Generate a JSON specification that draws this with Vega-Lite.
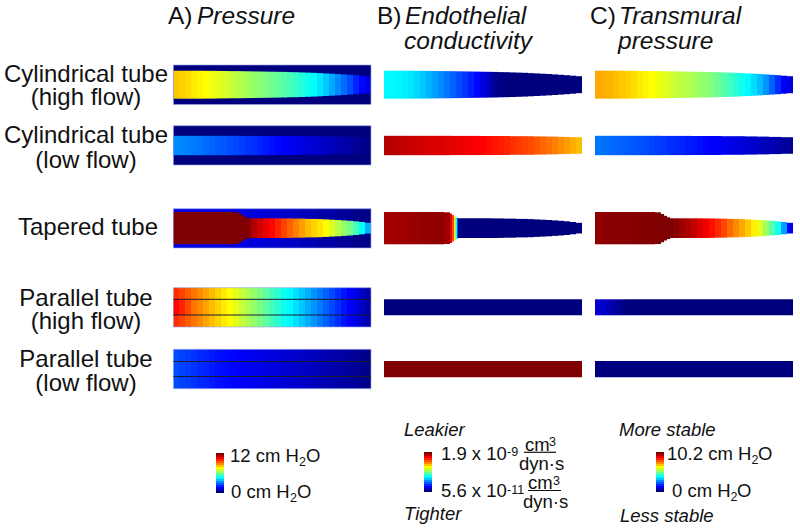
{"$schema":"https://vega.github.io/schema/vega-lite/v6.json","width":800,"height":532,"padding":0,"autosize":{"type":"fit","contains":"padding"},"background":"white","view":{"stroke":null},
"encoding":{"x":{"field":"x","type":"quantitative","scale":{"domain":[0,800],"nice":false,"zero":false},"axis":null},"y":{"field":"y","type":"quantitative","scale":{"domain":[532,0],"nice":false,"zero":false},"axis":null}},
"layer":[
{"mark":{"type":"rect","strokeWidth":0},"encoding":{"x2":{"field":"x2"},"y2":{"field":"y2"},"color":{"field":"v","type":"quantitative","legend":null,"scale":{"domain":[0,12.5,37.5,50,62.5,87.5,100],"range":["#00007f","#0000ff","#00ffff","#7fff7f","#ffff00","#ff0000","#7f0000"],"interpolate":"rgb"}}},
"data":{"values":[
{"x":173.4,"x2":371,"y":65,"y2":104.5,"v":0},{"x":173.4,"x2":371,"y":125.7,"y2":165,"v":0},
{"x":173.4,"x2":191,"y":208.7,"y2":248,"v":10},{"x":191,"x2":209,"y":208.7,"y2":248,"v":10},{"x":209,"x2":227,"y":208.7,"y2":248,"v":10},{"x":227,"x2":245,"y":208.7,"y2":248,"v":9.5},{"x":245,"x2":263,"y":208.7,"y2":248,"v":9},{"x":263,"x2":281,"y":208.7,"y2":248,"v":8},{"x":281,"x2":299,"y":208.7,"y2":248,"v":7},{"x":299,"x2":317,"y":208.7,"y2":248,"v":5.5},{"x":317,"x2":335,"y":208.7,"y2":248,"v":4},{"x":335,"x2":353,"y":208.7,"y2":248,"v":2.5},{"x":353,"x2":371,"y":208.7,"y2":248,"v":1},

{"x":173.4,"x2":179,"y":70.7,"y2":98.7,"v":68},{"x":179,"x2":185,"y":70.7,"y2":98.7,"v":67},{"x":185,"x2":191,"y":70.7,"y2":98.7,"v":66},{"x":191,"x2":197,"y":70.7,"y2":98.7,"v":64.5},{"x":197,"x2":203,"y":70.7,"y2":98.7,"v":63.5},{"x":203,"x2":209,"y":70.8,"y2":98.6,"v":62.5},{"x":209,"x2":215,"y":70.8,"y2":98.6,"v":61},{"x":215,"x2":221,"y":70.9,"y2":98.5,"v":60},{"x":221,"x2":227,"y":71,"y2":98.4,"v":59},{"x":227,"x2":233,"y":71.1,"y2":98.3,"v":57.5},{"x":233,"x2":239,"y":71.1,"y2":98.3,"v":56},{"x":239,"x2":245,"y":71.2,"y2":98.2,"v":55},{"x":245,"x2":251,"y":71.3,"y2":98.1,"v":53.5},{"x":251,"x2":257,"y":71.4,"y2":98,"v":52},{"x":257,"x2":263,"y":71.5,"y2":97.9,"v":51},{"x":263,"x2":269,"y":71.6,"y2":97.8,"v":50},{"x":269,"x2":275,"y":71.7,"y2":97.7,"v":48.5},{"x":275,"x2":281,"y":71.8,"y2":97.6,"v":47},{"x":281,"x2":287,"y":71.9,"y2":97.5,"v":46},{"x":287,"x2":293,"y":72.1,"y2":97.3,"v":44.5},{"x":293,"x2":299,"y":72.2,"y2":97.2,"v":43},{"x":299,"x2":305,"y":72.4,"y2":97,"v":41},{"x":305,"x2":311,"y":72.6,"y2":96.8,"v":39},{"x":311,"x2":317,"y":72.8,"y2":96.6,"v":37.5},{"x":317,"x2":323,"y":73.1,"y2":96.3,"v":35},{"x":323,"x2":329,"y":73.4,"y2":96,"v":32},{"x":329,"x2":335,"y":73.7,"y2":95.7,"v":29},{"x":335,"x2":341,"y":74,"y2":95.4,"v":26},{"x":341,"x2":347,"y":74.4,"y2":95,"v":23},{"x":347,"x2":353,"y":74.8,"y2":94.6,"v":20},{"x":353,"x2":359,"y":75.2,"y2":94.2,"v":16},{"x":359,"x2":365,"y":75.7,"y2":93.7,"v":13},{"x":365,"x2":371,"y":76.2,"y2":93.2,"v":10},

{"x":384,"x2":390,"y":70.7,"y2":98.7,"v":37},{"x":390,"x2":396,"y":70.7,"y2":98.7,"v":37},{"x":396,"x2":402,"y":70.7,"y2":98.7,"v":36.5},{"x":402,"x2":408,"y":70.7,"y2":98.7,"v":36},{"x":408,"x2":414,"y":70.7,"y2":98.7,"v":35},{"x":414,"x2":420,"y":70.8,"y2":98.6,"v":33.5},{"x":420,"x2":426,"y":70.8,"y2":98.6,"v":32},{"x":426,"x2":432,"y":70.9,"y2":98.5,"v":30},{"x":432,"x2":438,"y":71,"y2":98.4,"v":28},{"x":438,"x2":444,"y":71.1,"y2":98.3,"v":26},{"x":444,"x2":450,"y":71.1,"y2":98.3,"v":24},{"x":450,"x2":456,"y":71.2,"y2":98.2,"v":22},{"x":456,"x2":462,"y":71.3,"y2":98.1,"v":20},{"x":462,"x2":468,"y":71.4,"y2":98,"v":18},{"x":468,"x2":474,"y":71.5,"y2":97.9,"v":15.5},{"x":474,"x2":480,"y":71.6,"y2":97.8,"v":13},{"x":480,"x2":486,"y":71.7,"y2":97.7,"v":10},{"x":486,"x2":492,"y":71.8,"y2":97.6,"v":6},{"x":492,"x2":498,"y":71.9,"y2":97.5,"v":2},{"x":498,"x2":504,"y":72.1,"y2":97.3,"v":0.5},{"x":504,"x2":510,"y":72.2,"y2":97.2,"v":0},{"x":510,"x2":516,"y":72.4,"y2":97,"v":0},{"x":516,"x2":522,"y":72.6,"y2":96.8,"v":0},{"x":522,"x2":528,"y":72.8,"y2":96.6,"v":0},{"x":528,"x2":534,"y":73.1,"y2":96.3,"v":0},{"x":534,"x2":540,"y":73.4,"y2":96,"v":0},{"x":540,"x2":546,"y":73.7,"y2":95.7,"v":0},{"x":546,"x2":552,"y":74,"y2":95.4,"v":0},{"x":552,"x2":558,"y":74.4,"y2":95,"v":0},{"x":558,"x2":564,"y":74.8,"y2":94.6,"v":0},{"x":564,"x2":570,"y":75.2,"y2":94.2,"v":0},{"x":570,"x2":576,"y":75.7,"y2":93.7,"v":0},{"x":576,"x2":582,"y":76.2,"y2":93.2,"v":0},

{"x":595,"x2":601,"y":70.7,"y2":98.7,"v":71},{"x":601,"x2":607,"y":70.7,"y2":98.7,"v":70.5},{"x":607,"x2":613,"y":70.7,"y2":98.7,"v":70},{"x":613,"x2":619,"y":70.7,"y2":98.7,"v":69},{"x":619,"x2":625,"y":70.7,"y2":98.7,"v":68},{"x":625,"x2":631,"y":70.8,"y2":98.6,"v":67},{"x":631,"x2":637,"y":70.8,"y2":98.6,"v":66},{"x":637,"x2":643,"y":70.9,"y2":98.5,"v":64.5},{"x":643,"x2":649,"y":71,"y2":98.4,"v":63.5},{"x":649,"x2":655,"y":71.1,"y2":98.3,"v":62.5},{"x":655,"x2":661,"y":71.1,"y2":98.3,"v":61},{"x":661,"x2":667,"y":71.2,"y2":98.2,"v":60},{"x":667,"x2":673,"y":71.3,"y2":98.1,"v":58.5},{"x":673,"x2":679,"y":71.4,"y2":98,"v":57},{"x":679,"x2":685,"y":71.5,"y2":97.9,"v":56},{"x":685,"x2":691,"y":71.6,"y2":97.8,"v":55},{"x":691,"x2":697,"y":71.7,"y2":97.7,"v":54},{"x":697,"x2":703,"y":71.8,"y2":97.6,"v":52.5},{"x":703,"x2":709,"y":71.9,"y2":97.5,"v":51.5},{"x":709,"x2":715,"y":72.1,"y2":97.3,"v":50},{"x":715,"x2":721,"y":72.2,"y2":97.2,"v":48},{"x":721,"x2":727,"y":72.4,"y2":97,"v":46},{"x":727,"x2":733,"y":72.6,"y2":96.8,"v":44},{"x":733,"x2":739,"y":72.8,"y2":96.6,"v":41.5},{"x":739,"x2":745,"y":73.1,"y2":96.3,"v":39},{"x":745,"x2":751,"y":73.4,"y2":96,"v":37},{"x":751,"x2":757,"y":73.7,"y2":95.7,"v":34},{"x":757,"x2":763,"y":74,"y2":95.4,"v":31},{"x":763,"x2":769,"y":74.4,"y2":95,"v":27},{"x":769,"x2":775,"y":74.8,"y2":94.6,"v":22},{"x":775,"x2":781,"y":75.2,"y2":94.2,"v":17},{"x":781,"x2":787,"y":75.7,"y2":93.7,"v":12},{"x":787,"x2":793,"y":76.2,"y2":93.2,"v":9},

{"x":173.4,"x2":179,"y":135.8,"y2":155.2,"v":26},{"x":179,"x2":185,"y":135.8,"y2":155.2,"v":25.5},{"x":185,"x2":191,"y":135.8,"y2":155.2,"v":25},{"x":191,"x2":197,"y":135.8,"y2":155.2,"v":24.5},{"x":197,"x2":203,"y":135.8,"y2":155.2,"v":24},{"x":203,"x2":209,"y":135.8,"y2":155.2,"v":23},{"x":209,"x2":215,"y":135.8,"y2":155.2,"v":22.5},{"x":215,"x2":221,"y":135.8,"y2":155.2,"v":21.5},{"x":221,"x2":227,"y":135.8,"y2":155.2,"v":21},{"x":227,"x2":233,"y":135.8,"y2":155.2,"v":20},{"x":233,"x2":239,"y":135.8,"y2":155.2,"v":19.5},{"x":239,"x2":245,"y":135.9,"y2":155.1,"v":18.5},{"x":245,"x2":251,"y":135.9,"y2":155.1,"v":17.5},{"x":251,"x2":257,"y":135.9,"y2":155.1,"v":17},{"x":257,"x2":263,"y":135.9,"y2":155.1,"v":16},{"x":263,"x2":269,"y":135.9,"y2":155.1,"v":15},{"x":269,"x2":275,"y":136,"y2":155,"v":14},{"x":275,"x2":281,"y":136,"y2":155,"v":13},{"x":281,"x2":287,"y":136,"y2":155,"v":12},{"x":287,"x2":293,"y":136,"y2":155,"v":11.5},{"x":293,"x2":299,"y":136,"y2":155,"v":10.5},{"x":299,"x2":305,"y":136.2,"y2":154.8,"v":10},{"x":305,"x2":311,"y":136.2,"y2":154.8,"v":9},{"x":311,"x2":317,"y":136.2,"y2":154.8,"v":8},{"x":317,"x2":323,"y":136.2,"y2":154.8,"v":7.5},{"x":323,"x2":329,"y":136.4,"y2":154.6,"v":6.5},{"x":329,"x2":335,"y":136.4,"y2":154.6,"v":6},{"x":335,"x2":341,"y":136.6,"y2":154.4,"v":5},{"x":341,"x2":347,"y":136.6,"y2":154.4,"v":4},{"x":347,"x2":353,"y":136.9,"y2":154.1,"v":3.5},{"x":353,"x2":359,"y":136.9,"y2":154.1,"v":2.5},{"x":359,"x2":365,"y":137.2,"y2":153.8,"v":1.5},{"x":365,"x2":371,"y":137.2,"y2":153.8,"v":1},

{"x":384,"x2":390,"y":135.8,"y2":155.2,"v":95},{"x":390,"x2":396,"y":135.8,"y2":155.2,"v":94.5},{"x":396,"x2":402,"y":135.8,"y2":155.2,"v":94},{"x":402,"x2":408,"y":135.8,"y2":155.2,"v":93.5},{"x":408,"x2":414,"y":135.8,"y2":155.2,"v":93},{"x":414,"x2":420,"y":135.8,"y2":155.2,"v":92.5},{"x":420,"x2":426,"y":135.8,"y2":155.2,"v":92},{"x":426,"x2":432,"y":135.8,"y2":155.2,"v":91.5},{"x":432,"x2":438,"y":135.8,"y2":155.2,"v":91},{"x":438,"x2":444,"y":135.8,"y2":155.2,"v":91},{"x":444,"x2":450,"y":135.8,"y2":155.2,"v":90.5},{"x":450,"x2":456,"y":135.9,"y2":155.1,"v":90},{"x":456,"x2":462,"y":135.9,"y2":155.1,"v":89.5},{"x":462,"x2":468,"y":135.9,"y2":155.1,"v":89},{"x":468,"x2":474,"y":135.9,"y2":155.1,"v":88.5},{"x":474,"x2":480,"y":135.9,"y2":155.1,"v":88},{"x":480,"x2":486,"y":136,"y2":155,"v":87.5},{"x":486,"x2":492,"y":136,"y2":155,"v":86.5},{"x":492,"x2":498,"y":136,"y2":155,"v":85.5},{"x":498,"x2":504,"y":136,"y2":155,"v":85},{"x":504,"x2":510,"y":136,"y2":155,"v":84},{"x":510,"x2":516,"y":136.2,"y2":154.8,"v":83},{"x":516,"x2":522,"y":136.2,"y2":154.8,"v":82},{"x":522,"x2":528,"y":136.2,"y2":154.8,"v":81},{"x":528,"x2":534,"y":136.2,"y2":154.8,"v":80},{"x":534,"x2":540,"y":136.4,"y2":154.6,"v":79},{"x":540,"x2":546,"y":136.4,"y2":154.6,"v":77.5},{"x":546,"x2":552,"y":136.6,"y2":154.4,"v":76.5},{"x":552,"x2":558,"y":136.6,"y2":154.4,"v":75},{"x":558,"x2":564,"y":136.9,"y2":154.1,"v":73.5},{"x":564,"x2":570,"y":136.9,"y2":154.1,"v":72},{"x":570,"x2":576,"y":137.2,"y2":153.8,"v":70.5},{"x":576,"x2":582,"y":137.2,"y2":153.8,"v":69},

{"x":595,"x2":601,"y":135.8,"y2":155.2,"v":24},{"x":601,"x2":607,"y":135.8,"y2":155.2,"v":23.5},{"x":607,"x2":613,"y":135.8,"y2":155.2,"v":23},{"x":613,"x2":619,"y":135.8,"y2":155.2,"v":22.5},{"x":619,"x2":625,"y":135.8,"y2":155.2,"v":22},{"x":625,"x2":631,"y":135.8,"y2":155.2,"v":21.5},{"x":631,"x2":637,"y":135.8,"y2":155.2,"v":21},{"x":637,"x2":643,"y":135.8,"y2":155.2,"v":20.5},{"x":643,"x2":649,"y":135.8,"y2":155.2,"v":20},{"x":649,"x2":655,"y":135.8,"y2":155.2,"v":19},{"x":655,"x2":661,"y":135.8,"y2":155.2,"v":18.5},{"x":661,"x2":667,"y":135.9,"y2":155.1,"v":18},{"x":667,"x2":673,"y":135.9,"y2":155.1,"v":17},{"x":673,"x2":679,"y":135.9,"y2":155.1,"v":16.5},{"x":679,"x2":685,"y":135.9,"y2":155.1,"v":16},{"x":685,"x2":691,"y":135.9,"y2":155.1,"v":15},{"x":691,"x2":697,"y":136,"y2":155,"v":14.5},{"x":697,"x2":703,"y":136,"y2":155,"v":14},{"x":703,"x2":709,"y":136,"y2":155,"v":13},{"x":709,"x2":715,"y":136,"y2":155,"v":12.5},{"x":715,"x2":721,"y":136,"y2":155,"v":12},{"x":721,"x2":727,"y":136.2,"y2":154.8,"v":11},{"x":727,"x2":733,"y":136.2,"y2":154.8,"v":10.5},{"x":733,"x2":739,"y":136.2,"y2":154.8,"v":9.5},{"x":739,"x2":745,"y":136.2,"y2":154.8,"v":9},{"x":745,"x2":751,"y":136.4,"y2":154.6,"v":8},{"x":751,"x2":757,"y":136.4,"y2":154.6,"v":7.5},{"x":757,"x2":763,"y":136.6,"y2":154.4,"v":6.5},{"x":763,"x2":769,"y":136.6,"y2":154.4,"v":5.5},{"x":769,"x2":775,"y":136.9,"y2":154.1,"v":5},{"x":775,"x2":781,"y":136.9,"y2":154.1,"v":4},{"x":781,"x2":787,"y":137.2,"y2":153.8,"v":3},{"x":787,"x2":793,"y":137.2,"y2":153.8,"v":2.5},

{"x":173.4,"x2":233,"y":212,"y2":244.3,"v":100},{"x":233,"x2":239,"y":212.3,"y2":244,"v":100},{"x":239,"x2":242,"y":214,"y2":242.3,"v":100},{"x":242,"x2":245,"y":215.8,"y2":240.5,"v":100},{"x":245,"x2":248,"y":217.3,"y2":239,"v":100},{"x":248,"x2":251,"y":218.2,"y2":238.1,"v":99},{"x":251,"x2":257,"y":218.3,"y2":238,"v":95},{"x":257,"x2":263,"y":218.3,"y2":238,"v":92},{"x":263,"x2":269,"y":218.3,"y2":238,"v":89.5},{"x":269,"x2":275,"y":218.3,"y2":238,"v":87},{"x":275,"x2":281,"y":218.3,"y2":238,"v":84},{"x":281,"x2":287,"y":218.4,"y2":238,"v":81},{"x":287,"x2":293,"y":218.4,"y2":237.9,"v":78},{"x":293,"x2":299,"y":218.6,"y2":237.7,"v":75},{"x":299,"x2":305,"y":218.6,"y2":237.7,"v":72},{"x":305,"x2":311,"y":218.9,"y2":237.4,"v":69},{"x":311,"x2":317,"y":218.9,"y2":237.4,"v":67},{"x":317,"x2":323,"y":219.1,"y2":237.2,"v":65},{"x":323,"x2":329,"y":219.4,"y2":236.9,"v":62.5},{"x":329,"x2":335,"y":219.7,"y2":236.6,"v":59},{"x":335,"x2":341,"y":220,"y2":236.3,"v":56},{"x":341,"x2":347,"y":220.4,"y2":235.9,"v":52},{"x":347,"x2":353,"y":220.8,"y2":235.5,"v":49},{"x":353,"x2":359,"y":221.3,"y2":235,"v":44},{"x":359,"x2":365,"y":222,"y2":234.3,"v":38},{"x":365,"x2":371,"y":222.8,"y2":233.5,"v":30},

{"x":384,"x2":396,"y":212,"y2":244.3,"v":96.5},{"x":396,"x2":408,"y":212,"y2":244.3,"v":97},{"x":408,"x2":420,"y":212,"y2":244.3,"v":97.5},{"x":420,"x2":432,"y":212,"y2":244.3,"v":98},{"x":432,"x2":444,"y":212,"y2":244.3,"v":98.5},{"x":444,"x2":450,"y":212.3,"y2":244,"v":97},{"x":450,"x2":452,"y":213.5,"y2":243,"v":90},{"x":452,"x2":454,"y":215,"y2":241.5,"v":80},{"x":454,"x2":455,"y":216.2,"y2":240.2,"v":65},{"x":455,"x2":456,"y":217,"y2":239.4,"v":50},{"x":456,"x2":457,"y":217.6,"y2":238.8,"v":38},{"x":457,"x2":458,"y":218,"y2":238.4,"v":20},{"x":458,"x2":492,"y":218.3,"y2":238,"v":0},{"x":492,"x2":498,"y":218.4,"y2":238,"v":0},{"x":498,"x2":504,"y":218.4,"y2":237.9,"v":0},{"x":504,"x2":516,"y":218.6,"y2":237.7,"v":0},{"x":516,"x2":528,"y":218.9,"y2":237.4,"v":0},{"x":528,"x2":534,"y":219.1,"y2":237.2,"v":0},{"x":534,"x2":540,"y":219.4,"y2":236.9,"v":0},{"x":540,"x2":546,"y":219.7,"y2":236.6,"v":0},{"x":546,"x2":552,"y":220,"y2":236.3,"v":0},{"x":552,"x2":558,"y":220.4,"y2":235.9,"v":0},{"x":558,"x2":564,"y":220.8,"y2":235.5,"v":0},{"x":564,"x2":570,"y":221.3,"y2":235,"v":0},{"x":570,"x2":576,"y":222,"y2":234.3,"v":0},{"x":576,"x2":582,"y":222.8,"y2":233.5,"v":0},

{"x":595,"x2":607,"y":212,"y2":244.3,"v":98.5},{"x":607,"x2":631,"y":212,"y2":244.3,"v":99},{"x":631,"x2":655,"y":212,"y2":244.3,"v":99.5},{"x":655,"x2":661,"y":212.3,"y2":244,"v":100},{"x":661,"x2":664,"y":214,"y2":242.3,"v":100},{"x":664,"x2":667,"y":215.8,"y2":240.5,"v":100},{"x":667,"x2":670,"y":217.3,"y2":239,"v":100},{"x":670,"x2":673,"y":218.2,"y2":238.1,"v":100},{"x":673,"x2":679,"y":218.3,"y2":238,"v":99},{"x":679,"x2":685,"y":218.3,"y2":238,"v":97},{"x":685,"x2":691,"y":218.3,"y2":238,"v":95.5},{"x":691,"x2":697,"y":218.3,"y2":238,"v":93.5},{"x":697,"x2":703,"y":218.3,"y2":238,"v":91},{"x":703,"x2":709,"y":218.4,"y2":238,"v":88.5},{"x":709,"x2":715,"y":218.4,"y2":237.9,"v":86},{"x":715,"x2":721,"y":218.6,"y2":237.7,"v":83.5},{"x":721,"x2":727,"y":218.6,"y2":237.7,"v":80.5},{"x":727,"x2":733,"y":218.9,"y2":237.4,"v":77},{"x":733,"x2":739,"y":218.9,"y2":237.4,"v":74},{"x":739,"x2":745,"y":219.1,"y2":237.2,"v":71},{"x":745,"x2":751,"y":219.4,"y2":236.9,"v":68},{"x":751,"x2":757,"y":219.7,"y2":236.6,"v":64},{"x":757,"x2":763,"y":220,"y2":236.3,"v":60},{"x":763,"x2":769,"y":220.4,"y2":235.9,"v":53},{"x":769,"x2":775,"y":220.8,"y2":235.5,"v":46},{"x":775,"x2":781,"y":221.3,"y2":235,"v":39},{"x":781,"x2":787,"y":222,"y2":234.3,"v":28},{"x":787,"x2":793,"y":222.8,"y2":233.5,"v":12},

{"x":173.4,"x2":179,"y":287.7,"y2":327,"v":83},{"x":179,"x2":185,"y":287.7,"y2":327,"v":81},{"x":185,"x2":191,"y":287.7,"y2":327,"v":78.5},{"x":191,"x2":197,"y":287.7,"y2":327,"v":76},{"x":197,"x2":203,"y":287.7,"y2":327,"v":74},{"x":203,"x2":209,"y":287.7,"y2":327,"v":71.5},{"x":209,"x2":215,"y":287.7,"y2":327,"v":69},{"x":215,"x2":221,"y":287.7,"y2":327,"v":67},{"x":221,"x2":227,"y":287.7,"y2":327,"v":64.5},{"x":227,"x2":233,"y":287.7,"y2":327,"v":62.5},{"x":233,"x2":239,"y":287.7,"y2":327,"v":60},{"x":239,"x2":245,"y":287.7,"y2":327,"v":57},{"x":245,"x2":251,"y":287.7,"y2":327,"v":54.5},{"x":251,"x2":257,"y":287.7,"y2":327,"v":52},{"x":257,"x2":263,"y":287.7,"y2":327,"v":49.5},{"x":263,"x2":269,"y":287.7,"y2":327,"v":47},{"x":269,"x2":275,"y":287.7,"y2":327,"v":44},{"x":275,"x2":281,"y":287.7,"y2":327,"v":41.5},{"x":281,"x2":287,"y":287.7,"y2":327,"v":39},{"x":287,"x2":293,"y":287.7,"y2":327,"v":37},{"x":293,"x2":299,"y":287.7,"y2":327,"v":34.5},{"x":299,"x2":305,"y":287.7,"y2":327,"v":32},{"x":305,"x2":311,"y":287.7,"y2":327,"v":29.5},{"x":311,"x2":317,"y":287.7,"y2":327,"v":27},{"x":317,"x2":323,"y":287.7,"y2":327,"v":24.5},{"x":323,"x2":329,"y":287.7,"y2":327,"v":22},{"x":329,"x2":335,"y":287.7,"y2":327,"v":19.5},{"x":335,"x2":341,"y":287.7,"y2":327,"v":17},{"x":341,"x2":347,"y":287.7,"y2":327,"v":14.5},{"x":347,"x2":353,"y":287.7,"y2":327,"v":12},{"x":353,"x2":359,"y":287.7,"y2":327,"v":10},{"x":359,"x2":365,"y":287.7,"y2":327,"v":7},{"x":365,"x2":371,"y":287.7,"y2":327,"v":4},
{"x":173.4,"x2":179,"y":299.3,"y2":315,"v":87},{"x":179,"x2":185,"y":299.3,"y2":315,"v":84},{"x":185,"x2":191,"y":299.3,"y2":315,"v":80.5},

{"x":173.4,"x2":179,"y":349.3,"y2":388.7,"v":20},{"x":179,"x2":185,"y":349.3,"y2":388.7,"v":19},{"x":185,"x2":191,"y":349.3,"y2":388.7,"v":18.5},{"x":191,"x2":197,"y":349.3,"y2":388.7,"v":17.5},{"x":197,"x2":203,"y":349.3,"y2":388.7,"v":16.5},{"x":203,"x2":209,"y":349.3,"y2":388.7,"v":16},{"x":209,"x2":215,"y":349.3,"y2":388.7,"v":15},{"x":215,"x2":221,"y":349.3,"y2":388.7,"v":14},{"x":221,"x2":227,"y":349.3,"y2":388.7,"v":13.5},{"x":227,"x2":233,"y":349.3,"y2":388.7,"v":13},{"x":233,"x2":239,"y":349.3,"y2":388.7,"v":12.5},{"x":239,"x2":245,"y":349.3,"y2":388.7,"v":12},{"x":245,"x2":251,"y":349.3,"y2":388.7,"v":11.5},{"x":251,"x2":257,"y":349.3,"y2":388.7,"v":11},{"x":257,"x2":263,"y":349.3,"y2":388.7,"v":10.5},{"x":263,"x2":269,"y":349.3,"y2":388.7,"v":10},{"x":269,"x2":275,"y":349.3,"y2":388.7,"v":9.5},{"x":275,"x2":281,"y":349.3,"y2":388.7,"v":9},{"x":281,"x2":287,"y":349.3,"y2":388.7,"v":8.5},{"x":287,"x2":293,"y":349.3,"y2":388.7,"v":8},{"x":293,"x2":299,"y":349.3,"y2":388.7,"v":7.5},{"x":299,"x2":305,"y":349.3,"y2":388.7,"v":7},{"x":305,"x2":311,"y":349.3,"y2":388.7,"v":6.5},{"x":311,"x2":317,"y":349.3,"y2":388.7,"v":6},{"x":317,"x2":323,"y":349.3,"y2":388.7,"v":5.5},{"x":323,"x2":329,"y":349.3,"y2":388.7,"v":5},{"x":329,"x2":335,"y":349.3,"y2":388.7,"v":4.5},{"x":335,"x2":341,"y":349.3,"y2":388.7,"v":4},{"x":341,"x2":347,"y":349.3,"y2":388.7,"v":3.5},{"x":347,"x2":353,"y":349.3,"y2":388.7,"v":3},{"x":353,"x2":359,"y":349.3,"y2":388.7,"v":2.5},{"x":359,"x2":365,"y":349.3,"y2":388.7,"v":1.5},{"x":365,"x2":371,"y":349.3,"y2":388.7,"v":1},

{"x":384,"x2":582,"y":299.3,"y2":315.3,"v":0},{"x":384,"x2":582,"y":361,"y2":377.3,"v":100},
{"x":595,"x2":601,"y":299.3,"y2":315.3,"v":8},{"x":601,"x2":607,"y":299.3,"y2":315.3,"v":7},{"x":607,"x2":613,"y":299.3,"y2":315.3,"v":5},{"x":613,"x2":619,"y":299.3,"y2":315.3,"v":3},{"x":619,"x2":625,"y":299.3,"y2":315.3,"v":1.5},{"x":625,"x2":793,"y":299.3,"y2":315.3,"v":0},{"x":595,"x2":793,"y":361,"y2":377.3,"v":0},

{"x":216,"x2":224,"y":453,"y2":455,"v":100},{"x":216,"x2":224,"y":455,"y2":457,"v":95},{"x":216,"x2":224,"y":457,"y2":459,"v":89},{"x":216,"x2":224,"y":459,"y2":461,"v":84},{"x":216,"x2":224,"y":461,"y2":463,"v":79},{"x":216,"x2":224,"y":463,"y2":465,"v":74},{"x":216,"x2":224,"y":465,"y2":467,"v":68},{"x":216,"x2":224,"y":467,"y2":469,"v":63},{"x":216,"x2":224,"y":469,"y2":471,"v":58},{"x":216,"x2":224,"y":471,"y2":473,"v":53},{"x":216,"x2":224,"y":473,"y2":475,"v":47},{"x":216,"x2":224,"y":475,"y2":477,"v":42},{"x":216,"x2":224,"y":477,"y2":479,"v":37},{"x":216,"x2":224,"y":479,"y2":481,"v":32},{"x":216,"x2":224,"y":481,"y2":483,"v":26},{"x":216,"x2":224,"y":483,"y2":485,"v":21},{"x":216,"x2":224,"y":485,"y2":487,"v":16},{"x":216,"x2":224,"y":487,"y2":489,"v":11},{"x":216,"x2":224,"y":489,"y2":491,"v":5},{"x":216,"x2":224,"y":491,"y2":493,"v":0},

{"x":424,"x2":432,"y":452,"y2":454,"v":100},{"x":424,"x2":432,"y":454,"y2":456,"v":95},{"x":424,"x2":432,"y":456,"y2":458,"v":89},{"x":424,"x2":432,"y":458,"y2":460,"v":84},{"x":424,"x2":432,"y":460,"y2":462,"v":79},{"x":424,"x2":432,"y":462,"y2":464,"v":74},{"x":424,"x2":432,"y":464,"y2":466,"v":68},{"x":424,"x2":432,"y":466,"y2":468,"v":63},{"x":424,"x2":432,"y":468,"y2":470,"v":58},{"x":424,"x2":432,"y":470,"y2":472,"v":53},{"x":424,"x2":432,"y":472,"y2":474,"v":47},{"x":424,"x2":432,"y":474,"y2":476,"v":42},{"x":424,"x2":432,"y":476,"y2":478,"v":37},{"x":424,"x2":432,"y":478,"y2":480,"v":32},{"x":424,"x2":432,"y":480,"y2":482,"v":26},{"x":424,"x2":432,"y":482,"y2":484,"v":21},{"x":424,"x2":432,"y":484,"y2":486,"v":16},{"x":424,"x2":432,"y":486,"y2":488,"v":11},{"x":424,"x2":432,"y":488,"y2":490,"v":5},{"x":424,"x2":432,"y":490,"y2":492,"v":0},

{"x":656,"x2":664,"y":452,"y2":454,"v":100},{"x":656,"x2":664,"y":454,"y2":456,"v":95},{"x":656,"x2":664,"y":456,"y2":458,"v":89},{"x":656,"x2":664,"y":458,"y2":460,"v":84},{"x":656,"x2":664,"y":460,"y2":462,"v":79},{"x":656,"x2":664,"y":462,"y2":464,"v":74},{"x":656,"x2":664,"y":464,"y2":466,"v":68},{"x":656,"x2":664,"y":466,"y2":468,"v":63},{"x":656,"x2":664,"y":468,"y2":470,"v":58},{"x":656,"x2":664,"y":470,"y2":472,"v":53},{"x":656,"x2":664,"y":472,"y2":474,"v":47},{"x":656,"x2":664,"y":474,"y2":476,"v":42},{"x":656,"x2":664,"y":476,"y2":478,"v":37},{"x":656,"x2":664,"y":478,"y2":480,"v":32},{"x":656,"x2":664,"y":480,"y2":482,"v":26},{"x":656,"x2":664,"y":482,"y2":484,"v":21},{"x":656,"x2":664,"y":484,"y2":486,"v":16},{"x":656,"x2":664,"y":486,"y2":488,"v":11},{"x":656,"x2":664,"y":488,"y2":490,"v":5},{"x":656,"x2":664,"y":490,"y2":492,"v":0}
]}},
{"mark":{"type":"rect","fill":"transparent","stroke":"#9aa6e8","strokeWidth":0.8,"strokeOpacity":0.8},"encoding":{"x2":{"field":"x2"},"y2":{"field":"y2"}},"data":{"values":[{"x":173.4,"x2":371,"y":65,"y2":104.5},{"x":173.4,"x2":371,"y":125.7,"y2":165},{"x":173.4,"x2":371,"y":208.7,"y2":248},{"x":173.4,"x2":371,"y":287.7,"y2":327},{"x":173.4,"x2":371,"y":349.3,"y2":388.7}]}},
{"mark":{"type":"rule","color":"#1a1a30","strokeWidth":1},"encoding":{"x2":{"field":"x2"}},"data":{"values":[{"x":173.4,"x2":371,"y":299.3},{"x":173.4,"x2":371,"y":315},{"x":173.4,"x2":371,"y":361.5},{"x":173.4,"x2":371,"y":376.5}]}},
{"mark":{"type":"rule","color":"#111","strokeWidth":1.2},"encoding":{"x2":{"field":"x2"}},"data":{"values":[{"x":524,"x2":556,"y":452.3},{"x":528,"x2":561,"y":490.5}]}},
{"mark":{"type":"text","align":"center","baseline":"alphabetic","font":"Liberation Sans","fontSize":24,"color":"#111"},"encoding":{"text":{"field":"t"}},"data":{"values":[{"t":"Cylindrical tube","x":86,"y":82},{"t":"(high flow)","x":86,"y":105},{"t":"Cylindrical tube","x":86,"y":143},{"t":"(low flow)","x":86,"y":168},{"t":"Tapered tube","x":88,"y":235},{"t":"Parallel tube","x":86,"y":306},{"t":"(high flow)","x":86,"y":329},{"t":"Parallel tube","x":86,"y":367},{"t":"(low flow)","x":86,"y":391}]}},
{"mark":{"type":"text","align":"left","baseline":"alphabetic","font":"Liberation Sans","fontSize":24.5,"color":"#111"},"encoding":{"text":{"field":"t"}},"data":{"values":[{"t":"A)","x":168,"y":24},{"t":"B)","x":377,"y":24},{"t":"C)","x":590,"y":24}]}},
{"mark":{"type":"text","align":"left","baseline":"alphabetic","font":"Liberation Sans","fontStyle":"italic","fontSize":24.5,"color":"#111"},"encoding":{"text":{"field":"t"}},"data":{"values":[{"t":"Pressure","x":197,"y":24},{"t":"Endothelial","x":405,"y":24},{"t":"conductivity","x":404,"y":49},{"t":"Transmural","x":619,"y":24},{"t":"pressure","x":618,"y":49}]}},
{"mark":{"type":"text","align":"left","baseline":"alphabetic","font":"Liberation Sans","fontSize":18.5,"color":"#111"},"encoding":{"text":{"field":"t"}},"data":{"values":[{"t":"12 cm H","x":230,"y":462},{"t":"O","x":306,"y":462},{"t":"0 cm H","x":231,"y":498},{"t":"O","x":297,"y":498},{"t":"1.9 x 10","x":441,"y":460},{"t":"cm","x":525,"y":450.7},{"t":"dyn·s","x":519,"y":470},{"t":"5.6 x 10","x":441,"y":497},{"t":"cm","x":528,"y":489},{"t":"dyn·s","x":523,"y":508},{"t":"10.2 cm H","x":667,"y":460},{"t":"O","x":758,"y":460},{"t":"0 cm H","x":672,"y":497},{"t":"O","x":737,"y":497}]}},
{"mark":{"type":"text","align":"left","baseline":"alphabetic","font":"Liberation Sans","fontSize":12.5,"color":"#111"},"encoding":{"text":{"field":"t"}},"data":{"values":[{"t":"2","x":299,"y":466},{"t":"2","x":290,"y":502},{"t":"-9","x":507,"y":456},{"t":"3","x":549,"y":446},{"t":"-11","x":507,"y":493.5},{"t":"3","x":553,"y":484.5},{"t":"2","x":751.5,"y":464},{"t":"2","x":730.5,"y":501}]}},
{"mark":{"type":"text","align":"left","baseline":"alphabetic","font":"Liberation Sans","fontStyle":"italic","fontSize":18.5,"color":"#111"},"encoding":{"text":{"field":"t"}},"data":{"values":[{"t":"Leakier","x":404,"y":436},{"t":"Tighter","x":404,"y":520},{"t":"More stable","x":619,"y":436},{"t":"Less stable","x":620,"y":522}]}}
]}
